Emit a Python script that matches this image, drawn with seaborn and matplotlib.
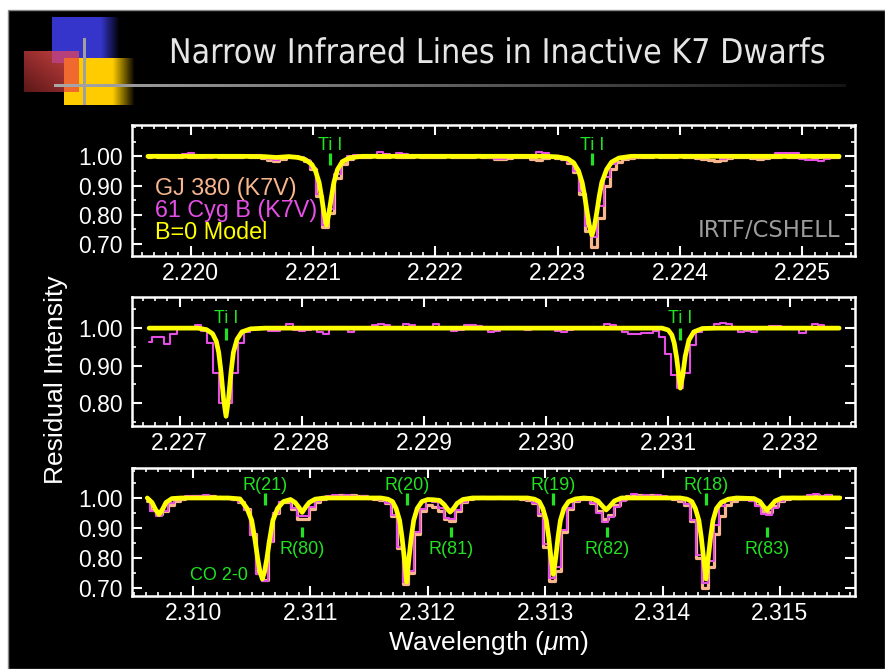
import numpy as np
import matplotlib
matplotlib.use("Agg")
import matplotlib.pyplot as plt
import matplotlib.patheffects as pe
from matplotlib.transforms import Affine2D
from matplotlib.patches import Rectangle
from matplotlib.ticker import MultipleLocator, FixedLocator, FormatStrFormatter
import seaborn as sns

# ---------------------------------------------------------------- data
TITLE = "Narrow Infrared Lines in Inactive K7 Dwarfs"
SERIES = ["GJ 380 (K7V)", "61 Cyg B (K7V)", "B=0 Model"]
STEP = 0.00005  # detector pixel spacing (micron)

# panel 1 : Ti I region near 2.221-2.223 micron
P1_START = 2.21965
P1_GJ380 = [0.998, 1.000, 0.998, 0.997, 0.999, 0.998, 1.000, 0.999, 0.998, 0.997,
            0.999, 1.000, 0.998, 0.999, 0.997, 0.998, 1.000, 0.999, 0.997, 0.994,
            0.988, 0.984, 0.990, 0.996, 0.997, 0.994, 0.985, 0.955, 0.864, 0.759,
            0.807, 0.926, 0.975, 0.991, 0.996, 0.998, 0.999, 1.000, 0.998, 0.999,
            1.000, 0.998, 0.997, 0.999, 1.000, 0.998, 0.999, 0.997, 0.998, 1.000,
            0.999, 0.998, 0.997, 0.999, 1.000, 0.998, 0.996, 0.992, 0.990, 0.994,
            0.998, 0.999, 0.996, 0.991, 0.988, 0.993, 0.997, 0.995, 0.990, 0.978,
            0.945, 0.870, 0.745, 0.690, 0.790, 0.900, 0.955, 0.980, 0.990, 0.995,
            0.998, 0.997, 0.999, 1.000, 0.998, 0.997, 0.999, 1.000, 0.998, 0.997,
            0.995, 0.992, 0.988, 0.985, 0.988, 0.994, 0.998, 0.999, 0.997, 0.994,
            0.990, 0.993, 0.997, 0.999, 1.000, 0.998, 0.997, 0.999, 1.000, 0.998,
            0.999, 1.000, 0.998, 0.999]
P1_CYG = [0.998, 1.004, 1.006, 1.003, 0.999, 0.997, 1.008, 1.010, 1.006, 0.998,
          0.994, 0.997, 1.000, 1.002, 0.999, 0.998, 1.004, 1.006, 1.003, 0.996,
          0.991, 0.989, 0.995, 1.000, 1.000, 0.996, 0.988, 0.960, 0.870, 0.765,
          0.820, 0.940, 0.985, 1.000, 1.005, 1.002, 0.999, 1.004, 1.014, 1.008,
          1.000, 1.010, 1.009, 1.001, 0.998, 1.000, 1.003, 0.999, 1.003, 1.004,
          1.002, 1.004, 1.003, 1.001, 1.003, 1.002, 0.995, 0.990, 0.992, 0.999,
          1.004, 1.005, 1.001, 1.006, 1.014, 1.010, 0.997, 1.000, 0.995, 0.982,
          0.950, 0.880, 0.760, 0.725, 0.830, 0.930, 0.975, 0.992, 0.996, 0.994,
          0.995, 0.996, 1.002, 1.003, 1.001, 1.003, 1.002, 1.004, 1.006, 1.005,
          1.004, 1.006, 1.003, 0.998, 0.992, 0.995, 1.000, 1.002, 1.001, 0.999,
          1.000, 1.003, 1.006, 1.011, 1.012, 1.010, 1.012, 0.990, 0.986, 0.988,
          0.985, 0.990, 1.000, 1.003]
P1_MODEL_W = [2.21965, 2.22040, 2.22060, 2.22070, 2.22080, 2.22088, 2.22094, 2.22099,
              2.22102, 2.22105, 2.22107, 2.22109, 2.22111, 2.22113, 2.22115, 2.22117,
              2.22120, 2.22124, 2.22130, 2.22140, 2.22290, 2.22300, 2.22308, 2.22313,
              2.22317, 2.22320, 2.22322, 2.22324, 2.22326, 2.22328, 2.22330, 2.22332,
              2.22334, 2.22336, 2.22340, 2.22344, 2.22350, 2.22360, 2.22530]
P1_MODEL_F = [1.000, 1.000, 0.999, 0.996, 0.999, 0.996, 0.988, 0.972,
              0.950, 0.910, 0.860, 0.805, 0.765, 0.805, 0.860, 0.910,
              0.955, 0.982, 0.995, 1.000, 1.000, 0.998, 0.992, 0.978,
              0.950, 0.910, 0.865, 0.810, 0.760, 0.730, 0.760, 0.810,
              0.865, 0.910, 0.955, 0.980, 0.994, 1.000, 1.000]
P1_LINES = [2.22114, 2.22328]
P1_LABELS = ["Ti I", "Ti I"]

# panel 2 : Ti I region near 2.227-2.231 micron
P2_START = 2.22675
P2_CYG = [0.963, 0.976, 0.975, 0.957, 0.985, 0.999, 1.000, 1.003, 1.008, 0.993,
          0.960, 0.880, 0.800, 0.800, 0.880, 0.960, 0.990, 0.999, 1.001, 0.998,
          0.993, 0.992, 1.000, 1.011, 0.994, 0.992, 0.996, 1.000, 0.990, 0.985,
          1.003, 1.004, 1.002, 0.990, 0.998, 1.000, 1.002, 1.008, 1.011, 1.009,
          1.003, 1.002, 1.010, 1.008, 1.000, 0.999, 1.001, 1.010, 1.004, 1.000,
          0.993, 0.994, 1.007, 1.008, 1.006, 1.004, 0.990, 0.991, 1.000, 1.002,
          1.004, 0.997, 0.996, 1.000, 1.001, 0.999, 1.000, 0.991, 0.990, 0.996,
          1.000, 1.001, 0.999, 1.000, 1.002, 1.010, 1.009, 1.000, 0.990, 0.985,
          0.983, 0.987, 0.986, 0.993, 0.975, 0.930, 0.875, 0.840, 0.880, 0.955,
          0.990, 1.000, 1.002, 1.010, 1.013, 1.011, 1.004, 0.990, 0.991, 0.989,
          1.000, 1.004, 1.005, 1.006, 1.003, 1.000, 0.998, 0.986, 1.000, 1.010,
          1.008, 1.000, 1.001, 1.000]
P2_MODEL_W = [2.22675, 2.22715, 2.22722, 2.22727, 2.22730, 2.22732, 2.22734, 2.22736,
              2.22738, 2.22740, 2.22742, 2.22744, 2.22747, 2.22751, 2.22758, 2.22770,
              2.23095, 2.23100, 2.23103, 2.23105, 2.23107, 2.23109, 2.23110, 2.23112,
              2.23114, 2.23117, 2.23121, 2.23128, 2.23140, 2.23240]
P2_MODEL_F = [1.000, 1.000, 0.996, 0.985, 0.965, 0.935, 0.880, 0.810,
              0.765, 0.810, 0.880, 0.935, 0.970, 0.990, 0.998, 1.000,
              1.000, 0.995, 0.982, 0.960, 0.920, 0.865, 0.840, 0.875,
              0.925, 0.968, 0.990, 0.999, 1.000, 1.000]
P2_LINES = [2.22738, 2.23110]
P2_LABELS = ["Ti I", "Ti I"]

# panel 3 : CO 2-0 band head region
P3_START = 2.30961
P3_GJ380 = [0.990, 0.960, 0.945, 0.955, 0.975, 0.990, 0.998, 1.004, 1.006, 1.008,
            1.005, 1.007, 1.004, 1.001, 1.000, 0.995, 0.988, 0.962, 0.880, 0.750,
            0.728, 0.855, 0.950, 0.985, 0.988, 0.963, 0.930, 0.930, 0.964, 0.988,
            0.997, 1.004, 1.008, 1.010, 1.006, 1.009, 1.007, 1.005, 1.000, 0.997,
            0.992, 0.982, 0.940, 0.832, 0.714, 0.750, 0.880, 0.955, 0.975, 0.970,
            0.955, 0.929, 0.924, 0.958, 0.985, 0.996, 1.000, 1.003, 1.001, 1.000,
            1.002, 1.000, 0.999, 1.000, 0.997, 0.993, 0.983, 0.943, 0.838, 0.724,
            0.758, 0.886, 0.964, 0.989, 0.995, 0.995, 0.984, 0.957, 0.931, 0.943,
            0.975, 0.995, 1.006, 1.009, 1.010, 1.008, 1.011, 1.007, 1.004, 1.000,
            0.997, 0.991, 0.978, 0.923, 0.800, 0.700, 0.770, 0.880, 0.940, 0.975,
            0.990, 0.998, 0.998, 0.993, 0.978, 0.955, 0.952, 0.973, 0.991, 0.998,
            1.002, 1.000, 1.003, 1.008, 1.010, 1.006, 1.009, 1.004, 1.002]
P3_CYG = [0.995, 0.957, 0.940, 0.957, 0.983, 0.995, 1.000, 1.005, 1.008, 1.006,
          1.009, 1.004, 1.002, 1.000, 0.999, 0.994, 0.987, 0.961, 0.877, 0.745,
          0.722, 0.852, 0.950, 0.985, 0.990, 0.968, 0.940, 0.940, 0.969, 0.990,
          0.998, 1.006, 1.009, 1.005, 1.010, 1.008, 1.004, 1.006, 1.000, 0.997,
          0.993, 0.983, 0.943, 0.838, 0.720, 0.758, 0.886, 0.964, 0.989, 0.985,
          0.966, 0.933, 0.929, 0.960, 0.986, 0.998, 1.002, 1.000, 1.003, 1.001,
          0.999, 1.002, 1.000, 1.000, 0.997, 0.993, 0.984, 0.946, 0.846, 0.733,
          0.770, 0.892, 0.966, 0.990, 0.996, 0.995, 0.982, 0.950, 0.921, 0.935,
          0.971, 0.991, 1.004, 1.012, 1.008, 1.011, 1.006, 1.010, 1.005, 1.000,
          0.997, 0.992, 0.980, 0.928, 0.810, 0.718, 0.790, 0.910, 0.973, 0.990,
          0.996, 0.999, 0.997, 0.990, 0.974, 0.947, 0.943, 0.968, 0.989, 0.997,
          1.001, 1.000, 1.004, 1.009, 1.012, 1.007, 1.010, 1.003, 1.001]
P3_MODEL_W = [2.30961, 2.30965, 2.30968, 2.30971, 2.30974, 2.30977, 2.30982, 2.30990,
              2.31030, 2.31040, 2.31046, 2.31050, 2.31053, 2.31055, 2.31057, 2.31059,
              2.31061, 2.31063, 2.31065, 2.31068, 2.31072, 2.31077, 2.31083, 2.31087,
              2.31090, 2.31093, 2.31096, 2.31099, 2.31104, 2.31112,
              2.31160, 2.31166, 2.31170, 2.31173, 2.31176, 2.31178, 2.31180, 2.31182,
              2.31184, 2.31186, 2.31188, 2.31191, 2.31195, 2.31200, 2.31205,
              2.31210, 2.31214, 2.31217, 2.31219, 2.31222, 2.31225, 2.31230, 2.31238,
              2.31285, 2.31291, 2.31295, 2.31298, 2.31301, 2.31303, 2.31305, 2.31307,
              2.31309, 2.31311, 2.31313, 2.31316, 2.31320, 2.31326, 2.31333,
              2.31340, 2.31345, 2.31349, 2.31352, 2.31355, 2.31359, 2.31365,
              2.31415, 2.31421, 2.31425, 2.31428, 2.31431, 2.31433, 2.31435, 2.31437,
              2.31439, 2.31441, 2.31443, 2.31446, 2.31450, 2.31456, 2.31463,
              2.31478, 2.31483, 2.31486, 2.31489, 2.31492, 2.31496, 2.31502, 2.31551]
P3_MODEL_F = [1.000, 0.985, 0.962, 0.945, 0.962, 0.985, 0.998, 1.000,
              1.000, 0.997, 0.965, 0.925, 0.855, 0.800, 0.755, 0.730,
              0.755, 0.800, 0.855, 0.925, 0.965, 0.988, 0.995, 0.985,
              0.970, 0.952, 0.970, 0.985, 0.996, 1.000,
              1.000, 0.996, 0.988, 0.965, 0.925, 0.870, 0.800, 0.720,
              0.800, 0.870, 0.925, 0.965, 0.988, 0.995, 0.994,
              0.992, 0.978, 0.962, 0.953, 0.965, 0.982, 0.995, 1.000,
              1.000, 0.996, 0.988, 0.965, 0.925, 0.870, 0.800, 0.745,
              0.800, 0.870, 0.925, 0.965, 0.988, 0.997, 1.000,
              0.998, 0.990, 0.972, 0.960, 0.972, 0.990, 1.000,
              1.000, 0.996, 0.988, 0.965, 0.925, 0.870, 0.800, 0.730,
              0.800, 0.870, 0.925, 0.965, 0.985, 0.996, 1.000,
              0.998, 0.988, 0.972, 0.960, 0.972, 0.990, 1.000, 1.000]
P3_UPPER_LINES = [2.31061, 2.31182, 2.31307, 2.31437]
P3_UPPER_LABELS = ["R(21)", "R(20)", "R(19)", "R(18)"]
P3_LOWER_LINES = [2.31093, 2.31220, 2.31353, 2.31489]
P3_LOWER_LABELS = ["R(80)", "R(81)", "R(82)", "R(83)"]

X_TICKS_STEP = 0.001
Y_TICKS = [0.70, 0.80, 0.90, 1.00]

# ---------------------------------------------------------------- style
sns.set_theme(style="ticks", rc={
    "axes.facecolor": "black",
    "axes.edgecolor": "white",
    "axes.labelcolor": "white",
    "xtick.color": "white",
    "ytick.color": "white",
    "text.color": "white",
})
plt.rcParams["font.family"] = ["Liberation Sans", "DejaVu Sans"]
plt.rcParams["mathtext.fontset"] = "custom"
plt.rcParams["mathtext.rm"] = "Liberation Sans"
plt.rcParams["mathtext.it"] = "Liberation Sans:italic"

C_GJ = "#F7B68C"
C_CYG = "#E64FE6"
C_MODEL = "#FFFF00"
C_ID = "#22E022"

W, H = 885, 669
fig = plt.figure(figsize=(W / 100, H / 100), dpi=100)
fig.patch.set_facecolor("white")


class HSqueeze(pe.AbstractPathEffect):
    """Draw glyphs compressed horizontally about the centre of the string."""

    def __init__(self, sx):
        super().__init__()
        self.sx = sx

    def draw_path(self, renderer, gc, tpath, affine, rgbFace=None):
        ext = tpath.get_extents()
        cx = 0.5 * (ext.x0 + ext.x1)
        squeeze = Affine2D().translate(-cx, 0).scale(self.sx, 1.0).translate(cx, 0)
        renderer.draw_path(gc, tpath, squeeze + affine, rgbFace)


# ------------------------------------------------------- slide backdrop
deco = fig.add_axes([0, 0, 1, 1], zorder=-5)
deco.set_autoscale_on(False)
deco.set_xlim(0, W)
deco.set_ylim(H, 0)
deco.axis("off")
deco.add_patch(Rectangle((8, 10), W - 8, H - 10, facecolor="black",
                         edgecolor="#8a8a8a", lw=1.0, zorder=0))


def fade_rect(x0, x1, y0, y1, rgb, fade_from, z):
    xs = np.linspace(x0, x1, 128)
    t = np.clip((x1 - xs) / (x1 - fade_from), 0, 1)
    img = np.array(rgb)[None, None, :] * t[None, :, None]
    deco.imshow(img, extent=(x0, x1, y1, y0), aspect="auto",
                interpolation="bilinear", zorder=z)


fade_rect(52, 120, 17, 63, (0.21, 0.21, 0.80), 101, 1)
u = np.linspace(0, 1, 48)[None, :]
v = np.linspace(0, 1, 48)[:, None]
tt = np.clip(0.25 + 0.5 * (u + 1 - v), 0, 1)
c0 = np.array([0.25, 0.05, 0.05])
c1 = np.array([0.70, 0.22, 0.22])
deco.imshow(c0 + (c1 - c0) * tt[..., None], extent=(24, 79, 92, 51), aspect="auto",
            interpolation="bilinear", zorder=2)
fade_rect(64, 135, 58, 105, (1.0, 0.80, 0.0), 113, 3)
deco.add_patch(Rectangle((52, 51), 27, 12, facecolor="#B8407A", lw=0, zorder=4))
deco.add_patch(Rectangle((64, 58), 15, 34, facecolor="#F06A30", lw=0, zorder=4))
xs = np.linspace(54, 846, 256)
gray = np.clip(0.66 - 0.58 * (xs - 54) / 792, 0, 1)
deco.imshow(np.repeat(gray[None, :, None], 3, axis=2), extent=(54, 846, 87, 84),
            aspect="auto", interpolation="bilinear", zorder=5)
deco.add_patch(Rectangle((82.5, 38), 3, 67, facecolor="#A0A0A0", lw=0, zorder=6))

fig.text(497 / W, 1 - 63 / H, TITLE, ha="center", va="baseline", fontsize=24.5,
         color="#E6E6E6", family="DejaVu Sans", path_effects=[HSqueeze(0.89)])

# ------------------------------------------------------------ panels
def panel(top, bottom):
    return fig.add_axes([132 / W, 1 - bottom / H, (855 - 132) / W, (bottom - top) / H])


def style_axes(ax, xlim, ylim, yticks):
    ax.set_xlim(*xlim)
    ax.set_ylim(*ylim)
    ax.xaxis.set_major_locator(MultipleLocator(X_TICKS_STEP))
    ax.xaxis.set_minor_locator(MultipleLocator(X_TICKS_STEP / 10))
    ax.xaxis.set_major_formatter(FormatStrFormatter("%.3f"))
    ax.yaxis.set_major_locator(FixedLocator(yticks))
    ax.yaxis.set_minor_locator(MultipleLocator(0.05))
    ax.yaxis.set_major_formatter(FormatStrFormatter("%.2f"))
    ax.tick_params(which="both", direction="in", top=True, right=True,
                   colors="white", labelsize=16.5)
    ax.tick_params(which="major", length=7, width=1.5)
    ax.tick_params(which="minor", length=3, width=1.2)
    ax.tick_params(axis="x", pad=4.5)
    ax.tick_params(axis="y", pad=6.5)
    for s in ax.spines.values():
        s.set_color("white")
        s.set_linewidth(1.8)
    ax.set_xlabel("")
    ax.set_ylabel("")


def grid(start, n):
    return start + STEP * np.arange(n)


def draw_steps(ax, start, flux, color, lw):
    sns.lineplot(x=grid(start, len(flux)), y=flux, ax=ax, color=color, lw=lw,
                 drawstyle="steps-mid", estimator=None, sort=False, zorder=2)


def draw_model(ax, w, f):
    sns.lineplot(x=w, y=f, ax=ax, color=C_MODEL, lw=3.4, estimator=None,
                 sort=False, zorder=3)


def mark(ax, xs, labels, y0, y1, ylab, va):
    ax.vlines(xs, y0, y1, colors=C_ID, lw=2.3, zorder=4)
    for x, lab in zip(xs, labels):
        ax.text(x, ylab, lab, color=C_ID, fontsize=13, ha="center", va=va, zorder=5)


# panel 1
ax1 = panel(125, 256)
draw_steps(ax1, P1_START, P1_GJ380, C_GJ, 2.3)
draw_steps(ax1, P1_START, P1_CYG, C_CYG, 1.5)
draw_model(ax1, P1_MODEL_W, P1_MODEL_F)
style_axes(ax1, (2.21952, 2.22543), (0.659, 1.107), Y_TICKS)
mark(ax1, P1_LINES, P1_LABELS, 0.970, 1.010, 1.022, "baseline")
for lab, col, yb in zip(SERIES, [C_GJ, C_CYG, C_MODEL], [0.466, 0.298, 0.130]):
    ax1.text(0.032, yb, lab, color=col, fontsize=16.8, transform=ax1.transAxes,
             ha="left", va="baseline")
ax1.text(0.979, 0.145, "IRTF/CSHELL", color="#9C9C9C", fontsize=16.3,
         family="DejaVu Sans", transform=ax1.transAxes, ha="right", va="baseline")

# panel 2
ax2 = panel(297, 426)
draw_steps(ax2, P2_START, P2_CYG, C_CYG, 1.5)
draw_model(ax2, P2_MODEL_W, P2_MODEL_F)
style_axes(ax2, (2.22661, 2.23253), (0.739, 1.083), Y_TICKS)
mark(ax2, P2_LINES, P2_LABELS, 0.968, 1.000, 1.014, "baseline")

# panel 3
ax3 = panel(468, 596)
draw_steps(ax3, P3_START, P3_GJ380, C_GJ, 2.3)
draw_steps(ax3, P3_START, P3_CYG, C_CYG, 1.5)
draw_model(ax3, P3_MODEL_W, P3_MODEL_F)
style_axes(ax3, (2.30948, 2.31564), (0.673, 1.100), Y_TICKS)
mark(ax3, P3_UPPER_LINES, P3_UPPER_LABELS, 0.977, 1.017, 1.027, "baseline")
mark(ax3, P3_LOWER_LINES, P3_LOWER_LABELS, 0.870, 0.903, 0.858, "top")
ax3.text(2.30997, 0.743, "CO 2-0", color=C_ID, fontsize=13, ha="left", va="center")

# shared axis titles
fig.text(56 / W, 1 - 380 / H, "Residual Intensity", rotation=90, ha="center",
         va="center", fontsize=19, color="white")
fig.text(489 / W, 1 - 643 / H, r"Wavelength ($\mu$m)", ha="center", va="center",
         fontsize=19, color="white")

fig.savefig("out.png", dpi=100, facecolor=fig.get_facecolor())
